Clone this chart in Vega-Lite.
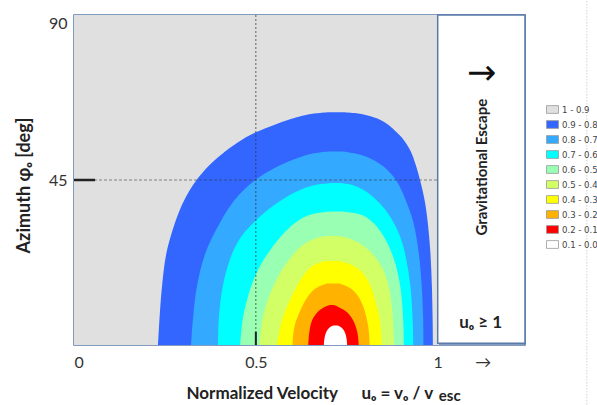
{
  "$schema": "https://vega.github.io/schema/vega-lite/v6.json",
  "autosize": {"type": "none"},
  "padding": {"left": 74, "top": 15, "right": 72, "bottom": 60},
  "width": 451,
  "height": 330,
  "background": "white",
  "config": {
    "view": {"stroke": "#5a7aaa", "strokeWidth": 1.5},
    "axis": {"grid": false, "ticks": false, "tickSize": 0, "domain": false, "labelFont": "Lato", "labelFontSize": 16, "labelColor": "#333", "titleFont": "Lato", "titleFontSize": 17, "titleFontWeight": "bold", "titleColor": "#222"},
    "legend": {"orient": "none", "legendX": 472, "legendY": 88, "padding": 0, "symbolType": "M-1,-0.65H1V0.65H-1Z", "symbolSize": 144, "symbolStrokeColor": "#999", "symbolStrokeWidth": 0.8, "symbolOpacity": 1, "labelFont": "Liberation Sans Narrow, DejaVu Sans Condensed, sans-serif", "labelFontSize": 9.5, "labelColor": "#444", "rowPadding": 3, "labelOffset": 3}
  },
  "datasets": {
    "contours": [
      {"band": "0.9 - 0.8", "y": 0, "xl": 0.231, "xr": 0.987},
      {"band": "0.9 - 0.8", "y": 7, "xl": 0.235, "xr": 0.986},
      {"band": "0.9 - 0.8", "y": 16, "xl": 0.242, "xr": 0.984},
      {"band": "0.9 - 0.8", "y": 25, "xl": 0.254, "xr": 0.98},
      {"band": "0.9 - 0.8", "y": 34, "xl": 0.28, "xr": 0.972},
      {"band": "0.9 - 0.8", "y": 39.5, "xl": 0.303, "xr": 0.964},
      {"band": "0.9 - 0.8", "y": 44.7, "xl": 0.335, "xr": 0.952},
      {"band": "0.9 - 0.8", "y": 49, "xl": 0.372, "xr": 0.94},
      {"band": "0.9 - 0.8", "y": 53, "xl": 0.418, "xr": 0.925},
      {"band": "0.9 - 0.8", "y": 56, "xl": 0.462, "xr": 0.906},
      {"band": "0.9 - 0.8", "y": 58, "xl": 0.5, "xr": 0.887},
      {"band": "0.9 - 0.8", "y": 60, "xl": 0.55, "xr": 0.865},
      {"band": "0.9 - 0.8", "y": 61.5, "xl": 0.592, "xr": 0.84},
      {"band": "0.9 - 0.8", "y": 62.5, "xl": 0.628, "xr": 0.81},
      {"band": "0.9 - 0.8", "y": 63.2, "xl": 0.665, "xr": 0.777},
      {"band": "0.9 - 0.8", "y": 63.5, "xl": 0.7, "xr": 0.74},

      {"band": "0.8 - 0.7", "y": 0, "xl": 0.322, "xr": 0.961},
      {"band": "0.8 - 0.7", "y": 7, "xl": 0.327, "xr": 0.96},
      {"band": "0.8 - 0.7", "y": 16, "xl": 0.338, "xr": 0.956},
      {"band": "0.8 - 0.7", "y": 25, "xl": 0.361, "xr": 0.948},
      {"band": "0.8 - 0.7", "y": 33.5, "xl": 0.402, "xr": 0.933},
      {"band": "0.8 - 0.7", "y": 39.5, "xl": 0.441, "xr": 0.912},
      {"band": "0.8 - 0.7", "y": 44.7, "xl": 0.495, "xr": 0.887},
      {"band": "0.8 - 0.7", "y": 48.6, "xl": 0.558, "xr": 0.852},
      {"band": "0.8 - 0.7", "y": 51.3, "xl": 0.623, "xr": 0.806},
      {"band": "0.8 - 0.7", "y": 52.3, "xl": 0.66, "xr": 0.77},
      {"band": "0.8 - 0.7", "y": 52.8, "xl": 0.7, "xr": 0.74},

      {"band": "0.7 - 0.6", "y": 0, "xl": 0.396, "xr": 0.933},
      {"band": "0.7 - 0.6", "y": 7, "xl": 0.398, "xr": 0.931},
      {"band": "0.7 - 0.6", "y": 16, "xl": 0.409, "xr": 0.925},
      {"band": "0.7 - 0.6", "y": 25, "xl": 0.435, "xr": 0.91},
      {"band": "0.7 - 0.6", "y": 30, "xl": 0.463, "xr": 0.895},
      {"band": "0.7 - 0.6", "y": 33.5, "xl": 0.495, "xr": 0.878},
      {"band": "0.7 - 0.6", "y": 37, "xl": 0.535, "xr": 0.855},
      {"band": "0.7 - 0.6", "y": 39.5, "xl": 0.57, "xr": 0.832},
      {"band": "0.7 - 0.6", "y": 41.5, "xl": 0.605, "xr": 0.808},
      {"band": "0.7 - 0.6", "y": 43, "xl": 0.64, "xr": 0.782},
      {"band": "0.7 - 0.6", "y": 43.8, "xl": 0.67, "xr": 0.76},
      {"band": "0.7 - 0.6", "y": 44.2, "xl": 0.71, "xr": 0.73},

      {"band": "0.6 - 0.5", "y": 0, "xl": 0.457, "xr": 0.907},
      {"band": "0.6 - 0.5", "y": 7, "xl": 0.464, "xr": 0.905},
      {"band": "0.6 - 0.5", "y": 16, "xl": 0.487, "xr": 0.897},
      {"band": "0.6 - 0.5", "y": 22, "xl": 0.514, "xr": 0.884},
      {"band": "0.6 - 0.5", "y": 26, "xl": 0.54, "xr": 0.87},
      {"band": "0.6 - 0.5", "y": 29.5, "xl": 0.568, "xr": 0.852},
      {"band": "0.6 - 0.5", "y": 32, "xl": 0.592, "xr": 0.835},
      {"band": "0.6 - 0.5", "y": 34, "xl": 0.618, "xr": 0.815},
      {"band": "0.6 - 0.5", "y": 35.3, "xl": 0.643, "xr": 0.795},
      {"band": "0.6 - 0.5", "y": 36, "xl": 0.67, "xr": 0.77},
      {"band": "0.6 - 0.5", "y": 36.4, "xl": 0.705, "xr": 0.735},

      {"band": "0.5 - 0.4", "y": 0, "xl": 0.51, "xr": 0.88},
      {"band": "0.5 - 0.4", "y": 7, "xl": 0.518, "xr": 0.877},
      {"band": "0.5 - 0.4", "y": 12, "xl": 0.532, "xr": 0.872},
      {"band": "0.5 - 0.4", "y": 16, "xl": 0.548, "xr": 0.865},
      {"band": "0.5 - 0.4", "y": 20.5, "xl": 0.572, "xr": 0.85},
      {"band": "0.5 - 0.4", "y": 24, "xl": 0.597, "xr": 0.828},
      {"band": "0.5 - 0.4", "y": 26.5, "xl": 0.62, "xr": 0.803},
      {"band": "0.5 - 0.4", "y": 28.2, "xl": 0.645, "xr": 0.776},
      {"band": "0.5 - 0.4", "y": 29.2, "xl": 0.668, "xr": 0.752},
      {"band": "0.5 - 0.4", "y": 29.7, "xl": 0.695, "xr": 0.725},

      {"band": "0.4 - 0.3", "y": 0, "xl": 0.558, "xr": 0.846},
      {"band": "0.4 - 0.3", "y": 6.8, "xl": 0.572, "xr": 0.841},
      {"band": "0.4 - 0.3", "y": 11.4, "xl": 0.59, "xr": 0.83},
      {"band": "0.4 - 0.3", "y": 15.9, "xl": 0.612, "xr": 0.816},
      {"band": "0.4 - 0.3", "y": 19.5, "xl": 0.635, "xr": 0.795},
      {"band": "0.4 - 0.3", "y": 21.5, "xl": 0.655, "xr": 0.77},
      {"band": "0.4 - 0.3", "y": 22.9, "xl": 0.69, "xr": 0.73},

      {"band": "0.3 - 0.2", "y": 0, "xl": 0.601, "xr": 0.813},
      {"band": "0.3 - 0.2", "y": 5, "xl": 0.606, "xr": 0.809},
      {"band": "0.3 - 0.2", "y": 10, "xl": 0.625, "xr": 0.797},
      {"band": "0.3 - 0.2", "y": 13.5, "xl": 0.645, "xr": 0.78},
      {"band": "0.3 - 0.2", "y": 15.5, "xl": 0.665, "xr": 0.76},
      {"band": "0.3 - 0.2", "y": 16.8, "xl": 0.695, "xr": 0.73},

      {"band": "0.2 - 0.1", "y": 0, "xl": 0.644, "xr": 0.783},
      {"band": "0.2 - 0.1", "y": 3.5, "xl": 0.647, "xr": 0.779},
      {"band": "0.2 - 0.1", "y": 6.8, "xl": 0.655, "xr": 0.767},
      {"band": "0.2 - 0.1", "y": 9, "xl": 0.67, "xr": 0.75},
      {"band": "0.2 - 0.1", "y": 10.3, "xl": 0.688, "xr": 0.728},
      {"band": "0.2 - 0.1", "y": 10.9, "xl": 0.703, "xr": 0.715},

      {"band": "0.1 - 0.0", "y": 0, "xl": 0.687, "xr": 0.751},
      {"band": "0.1 - 0.0", "y": 2, "xl": 0.689, "xr": 0.749},
      {"band": "0.1 - 0.0", "y": 3.8, "xl": 0.695, "xr": 0.743},
      {"band": "0.1 - 0.0", "y": 4.8, "xl": 0.703, "xr": 0.735},
      {"band": "0.1 - 0.0", "y": 5.3, "xl": 0.713, "xr": 0.725}
    ],
    "one": [{}]
  },
  "data": {"name": "contours"},
  "layer": [
    {
      "data": {"values": [{"band": "1 - 0.9"}]},
      "mark": {"type": "rect", "opacity": 1},
      "encoding": {
        "x": {"datum": 0, "type": "quantitative"},
        "x2": {"datum": 1.003},
        "y": {"datum": 0, "type": "quantitative"},
        "y2": {"datum": 90},
        "color": {"field": "band", "type": "nominal",
          "scale": {"domain": ["1 - 0.9", "0.9 - 0.8", "0.8 - 0.7", "0.7 - 0.6", "0.6 - 0.5", "0.5 - 0.4", "0.4 - 0.3", "0.3 - 0.2", "0.2 - 0.1", "0.1 - 0.0"],
                    "range": ["#e0e0e0", "#3366ff", "#33aaff", "#00ffff", "#99ffb3", "#d2ff66", "#ffff00", "#ffb300", "#ff0000", "#ffffff"]},
          "legend": {"title": null}}
      }
    },
    {
      "transform": [{"filter": "datum.band == '0.9 - 0.8'"}],
      "mark": {"type": "area", "orient": "horizontal", "interpolate": "catmull-rom", "opacity": 1},
      "encoding": {
        "y": {"field": "y", "type": "quantitative", "scale": {"domain": [0, 90], "nice": false, "zero": false},
          "axis": {"values": [45, 90], "labelFlush": true, "labelPadding": 7, "title": "Azimuth φₒ [deg]", "titleFontSize": 18, "titleX": -50, "titleY": 170, "titleAlign": "center", "titleBaseline": "middle", "titleAngle": -90}},
        "x": {"field": "xl", "type": "quantitative", "stack": null, "scale": {"domain": [0, 1.24], "nice": false, "zero": false},
          "axis": {"values": [0, 0.5, 1, 1.124], "labelExpr": "datum.value > 1.05 ? '→' : datum.value == 0.5 ? '0.5' : datum.value == 0 ? '0' : '1'", "labelPadding": 9,
            "title": "Normalized Velocity\u2003\u2002\u2009uₒ = vₒ / v", "titleAnchor": "start", "titleAlign": "left", "titleX": 112, "titleY": 53, "titleBaseline": "alphabetic"}},
        "x2": {"field": "xr"},
        "color": {"field": "band", "type": "nominal"}
      }
    },
    {
      "transform": [{"filter": "datum.band == '0.8 - 0.7'"}],
      "mark": {"type": "area", "orient": "horizontal", "interpolate": "catmull-rom", "opacity": 1},
      "encoding": {"y": {"field": "y", "type": "quantitative"}, "x": {"field": "xl", "type": "quantitative", "stack": null}, "x2": {"field": "xr"}, "color": {"field": "band", "type": "nominal"}}
    },
    {
      "transform": [{"filter": "datum.band == '0.7 - 0.6'"}],
      "mark": {"type": "area", "orient": "horizontal", "interpolate": "catmull-rom", "opacity": 1},
      "encoding": {"y": {"field": "y", "type": "quantitative"}, "x": {"field": "xl", "type": "quantitative", "stack": null}, "x2": {"field": "xr"}, "color": {"field": "band", "type": "nominal"}}
    },
    {
      "transform": [{"filter": "datum.band == '0.6 - 0.5'"}],
      "mark": {"type": "area", "orient": "horizontal", "interpolate": "catmull-rom", "opacity": 1},
      "encoding": {"y": {"field": "y", "type": "quantitative"}, "x": {"field": "xl", "type": "quantitative", "stack": null}, "x2": {"field": "xr"}, "color": {"field": "band", "type": "nominal"}}
    },
    {
      "transform": [{"filter": "datum.band == '0.5 - 0.4'"}],
      "mark": {"type": "area", "orient": "horizontal", "interpolate": "catmull-rom", "opacity": 1},
      "encoding": {"y": {"field": "y", "type": "quantitative"}, "x": {"field": "xl", "type": "quantitative", "stack": null}, "x2": {"field": "xr"}, "color": {"field": "band", "type": "nominal"}}
    },
    {
      "transform": [{"filter": "datum.band == '0.4 - 0.3'"}],
      "mark": {"type": "area", "orient": "horizontal", "interpolate": "catmull-rom", "opacity": 1},
      "encoding": {"y": {"field": "y", "type": "quantitative"}, "x": {"field": "xl", "type": "quantitative", "stack": null}, "x2": {"field": "xr"}, "color": {"field": "band", "type": "nominal"}}
    },
    {
      "transform": [{"filter": "datum.band == '0.3 - 0.2'"}],
      "mark": {"type": "area", "orient": "horizontal", "interpolate": "catmull-rom", "opacity": 1},
      "encoding": {"y": {"field": "y", "type": "quantitative"}, "x": {"field": "xl", "type": "quantitative", "stack": null}, "x2": {"field": "xr"}, "color": {"field": "band", "type": "nominal"}}
    },
    {
      "transform": [{"filter": "datum.band == '0.2 - 0.1'"}],
      "mark": {"type": "area", "orient": "horizontal", "interpolate": "catmull-rom", "opacity": 1},
      "encoding": {"y": {"field": "y", "type": "quantitative"}, "x": {"field": "xl", "type": "quantitative", "stack": null}, "x2": {"field": "xr"}, "color": {"field": "band", "type": "nominal"}}
    },
    {
      "transform": [{"filter": "datum.band == '0.1 - 0.0'"}],
      "mark": {"type": "area", "orient": "horizontal", "interpolate": "catmull-rom", "opacity": 1},
      "encoding": {"y": {"field": "y", "type": "quantitative"}, "x": {"field": "xl", "type": "quantitative", "stack": null}, "x2": {"field": "xr"}, "color": {"field": "band", "type": "nominal"}}
    },
    {
      "data": {"name": "one"},
      "mark": {"type": "rule", "color": "#333", "opacity": 0.75, "strokeDash": [2, 2], "strokeWidth": 1},
      "encoding": {"x": {"datum": 0.5, "type": "quantitative"}, "y": {"datum": 0, "type": "quantitative"}, "y2": {"datum": 90}}
    },
    {
      "data": {"name": "one"},
      "mark": {"type": "rule", "color": "#333", "opacity": 0.55, "strokeDash": [3, 2], "strokeWidth": 1},
      "encoding": {"x": {"datum": 0, "type": "quantitative"}, "x2": {"datum": 1.0}, "y": {"datum": 45, "type": "quantitative"}}
    },
    {
      "data": {"name": "one"},
      "mark": {"type": "rule", "color": "#222", "strokeWidth": 2.5},
      "encoding": {"x": {"datum": 0, "type": "quantitative"}, "x2": {"datum": 0.058}, "y": {"datum": 45, "type": "quantitative"}}
    },
    {
      "data": {"name": "one"},
      "mark": {"type": "rule", "color": "#222", "strokeWidth": 2},
      "encoding": {"x": {"datum": 0.5, "type": "quantitative"}, "y": {"datum": 0, "type": "quantitative"}, "y2": {"datum": 3.6}}
    },
    {
      "data": {"name": "one"},
      "mark": {"type": "rect", "fill": "white", "stroke": "#5a7aaa", "strokeWidth": 1.5},
      "encoding": {"x": {"datum": 1.0, "type": "quantitative"}, "x2": {"datum": 1.24}, "y": {"datum": 0.5, "type": "quantitative"}, "y2": {"datum": 90}}
    },
    {
      "data": {"name": "one"},
      "mark": {"type": "text", "text": "→", "font": "DejaVu Sans", "fontSize": 35, "color": "#111", "align": "center", "baseline": "middle"},
      "encoding": {"x": {"datum": 1.121, "type": "quantitative"}, "y": {"datum": 74.3, "type": "quantitative"}}
    },
    {
      "data": {"name": "one"},
      "mark": {"type": "text", "text": "Gravitational Escape", "font": "Lato", "fontWeight": "bold", "fontSize": 15, "color": "#222", "angle": 270, "align": "center", "baseline": "middle"},
      "encoding": {"x": {"datum": 1.121, "type": "quantitative"}, "y": {"datum": 48.5, "type": "quantitative"}}
    },
    {
      "data": {"name": "one"},
      "mark": {"type": "text", "text": "uₒ ≥ 1", "font": "Lato", "fontWeight": "bold", "fontSize": 17, "color": "#222", "align": "center", "baseline": "middle"},
      "encoding": {"x": {"datum": 1.118, "type": "quantitative"}, "y": {"datum": 5.9, "type": "quantitative"}}
    },
    {
      "data": {"name": "one"},
      "mark": {"type": "text", "text": "esc", "font": "Lato", "fontWeight": "bold", "fontSize": 15, "color": "#222", "align": "left", "baseline": "alphabetic"},
      "encoding": {"x": {"datum": 1.003, "type": "quantitative"}, "y": {"datum": -15.4, "type": "quantitative"}}
    },
    {
      "data": {"name": "one"},
      "mark": {"type": "rule", "color": "#bbb", "strokeDash": [1, 2], "strokeWidth": 1},
      "encoding": {"x": {"datum": 1.41, "type": "quantitative"}, "y": {"datum": -17, "type": "quantitative"}, "y2": {"datum": 95}}
    }
  ]
}
